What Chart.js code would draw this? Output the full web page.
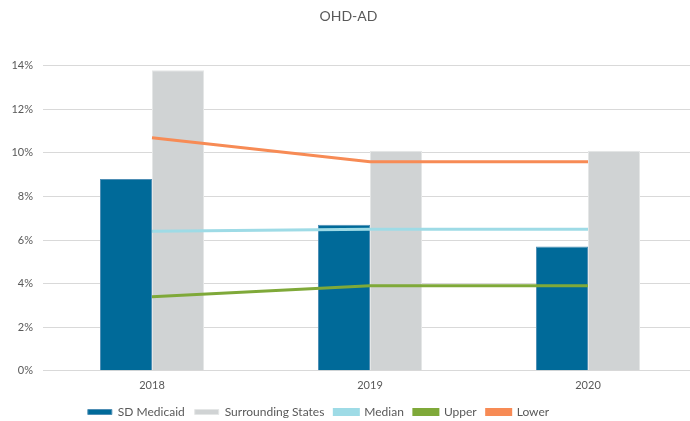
<!DOCTYPE html>
<html>
<head>
<meta charset="utf-8">
<script src="https://cdn.jsdelivr.net/npm/chart.js@4"></script>
<style>
    html, body { margin: 0; padding: 0; background: #fff; overflow: hidden; }
    #wrap { width: 697px; height: 421px; }
</style>
</head>
<body>
<div id="wrap"><canvas id="ohdChart"></canvas></div>
<script>
const anos = ['2018', '2019', '2020'];
const sdMedicaid = [8.8, 6.7, 5.7];
const surroundingStates = [13.8, 10.1, 10.1];
const mediana = [6.4, 6.5, 6.5];
const upper = [3.4, 3.9, 3.9];
const lower = [10.7, 9.6, 9.6];
const yTicks = [0, 2, 4, 6, 8, 10, 12, 14];

const corTexto = '#595959';
Chart.defaults.font.family = 'Lato, "Open Sans", sans-serif';
Chart.defaults.color = corTexto;

// desloca a legenda um pouco para a esquerda, como no original
const moverLegenda = {
    id: 'moverLegenda',
    afterLayout(chart) {
        chart.legend.left -= 30;
        chart.legend.right -= 30;
    }
};

const ctx = document.getElementById('ohdChart').getContext('2d');
const ohdChart = new Chart(ctx, {
    data: {
        labels: anos,
        datasets: [
            {
                type: 'bar',
                label: 'SD Medicaid',
                data: sdMedicaid,
                backgroundColor: '#006a99',
                borderColor: '#4f8fb5',
                borderWidth: 1,
                order: 2
            },
            {
                type: 'bar',
                label: 'Surrounding States',
                data: surroundingStates,
                backgroundColor: '#d0d3d4',
                borderColor: '#e4e6e6',
                borderWidth: 1,
                order: 2
            },
            {
                type: 'line',
                label: 'Median',
                data: mediana,
                borderColor: '#9edbe6',
                backgroundColor: '#9edbe6',
                borderWidth: 3,
                pointRadius: 0,
                order: 1
            },
            {
                type: 'line',
                label: 'Upper',
                data: upper,
                borderColor: '#7fa939',
                backgroundColor: '#7fa939',
                borderWidth: 3,
                pointRadius: 0,
                order: 1
            },
            {
                type: 'line',
                label: 'Lower',
                data: lower,
                borderColor: '#f78b55',
                backgroundColor: '#f78b55',
                borderWidth: 3,
                pointRadius: 0,
                order: 1
            }
        ]
    },
    options: {
        responsive: true,
        maintainAspectRatio: false,
        animation: false,
        layout: {
            padding: { left: 0, right: 0, top: 0, bottom: -7 }
        },
        datasets: {
            bar: {
                categoryPercentage: 0.477,
                barPercentage: 1.0
            }
        },
        plugins: {
            title: {
                display: true,
                text: 'OHD-AD',
                color: corTexto,
                font: { size: 14, weight: 'normal' },
                padding: { top: 8, bottom: 41 }
            },
            legend: {
                position: 'bottom',
                labels: {
                    sort: (a, b) => a.datasetIndex - b.datasetIndex,
                    boxWidth: 24,
                    boxHeight: 5,
                    padding: 10,
                    font: { size: 12 },
                    color: corTexto
                }
            },
            tooltip: { enabled: false }
        },
        scales: {
            x: {
                grid: { display: false },
                border: { display: false },
                ticks: { font: { size: 11 }, color: corTexto, padding: 0 },
                afterFit(scale) {
                    scale.height += 4;
                }
            },
            y: {
                min: 0,
                max: 14,
                afterBuildTicks(scale) {
                    scale.ticks = yTicks.map(v => ({ value: v }));
                },
                afterFit(scale) {
                    scale.width = 43;
                },
                grid: { color: '#d9d9d9', lineWidth: 1, drawTicks: false },
                border: { display: false },
                ticks: {
                    font: { size: 11 },
                    color: corTexto,
                    padding: 10,
                    callback: value => value + '%'
                }
            }
        }
    },
    plugins: [moverLegenda]
});
</script>
</body>
</html>
